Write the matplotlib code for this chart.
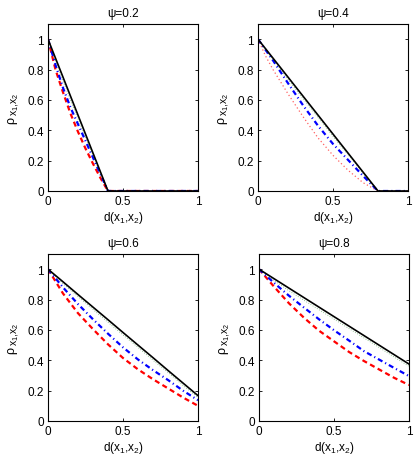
import matplotlib
matplotlib.use("Agg")
import matplotlib.pyplot as plt

plt.rcParams['font.family'] = ['Liberation Sans', 'DejaVu Sans']
plt.rcParams['mathtext.default'] = 'regular'

psis = [0.2, 0.4, 0.6, 0.8]
titles = ['ψ=0.2', 'ψ=0.4', 'ψ=0.6', 'ψ=0.8']

# distance grids per panel
d_02 = [0, 0.05, 0.1, 0.15, 0.2, 0.25, 0.3, 0.35, 0.4, 1.0]
d_04 = [0, 0.05, 0.1, 0.2, 0.3, 0.4, 0.5, 0.6, 0.7, 0.8, 1.0]
d_full = [0, 0.1, 0.2, 0.3, 0.4, 0.5, 0.6, 0.7, 0.8, 0.9, 1.0]

# psi = 0.2
black_02 = [1, 0.875, 0.75, 0.625, 0.5, 0.375, 0.25, 0.125, 0, 0]
green_02 = [1, 0.86, 0.725, 0.60, 0.475, 0.355, 0.235, 0.115, 0, 0]
blue_02 = [1, 0.83, 0.68, 0.55, 0.44, 0.33, 0.22, 0.11, 0, 0]
red_02 = [1, 0.80, 0.65, 0.51, 0.39, 0.28, 0.18, 0.085, 0, 0]

# psi = 0.4
black_04 = [1, 0.9375, 0.875, 0.75, 0.625, 0.5, 0.375, 0.25, 0.125, 0, 0]
green_04 = [1, 0.93, 0.865, 0.735, 0.61, 0.485, 0.36, 0.24, 0.118, 0, 0]
blue_04 = [1, 0.93, 0.86, 0.71, 0.565, 0.43, 0.31, 0.205, 0.10, 0, 0]
red_04 = [1, 0.89, 0.80, 0.64, 0.49, 0.35, 0.235, 0.137, 0.055, 0, 0]

# psi = 0.6
black_06 = [1, 0.917, 0.833, 0.75, 0.667, 0.583, 0.5, 0.417, 0.333, 0.25, 0.167]
green_06 = [1, 0.905, 0.82, 0.735, 0.65, 0.567, 0.485, 0.40, 0.32, 0.235, 0.155]
blue_06 = [1, 0.88, 0.77, 0.67, 0.575, 0.485, 0.405, 0.335, 0.27, 0.20, 0.137]
red_06 = [1, 0.84, 0.71, 0.605, 0.505, 0.415, 0.34, 0.275, 0.215, 0.155, 0.10]

# psi = 0.8
black_08 = [1, 0.9375, 0.875, 0.8125, 0.75, 0.6875, 0.625, 0.5625, 0.5, 0.4375, 0.375]
green_08 = [1, 0.925, 0.858, 0.795, 0.733, 0.671, 0.609, 0.547, 0.485, 0.422, 0.36]
blue_08 = [1, 0.91, 0.825, 0.747, 0.67, 0.598, 0.53, 0.46, 0.405, 0.35, 0.296]
red_08 = [1, 0.885, 0.775, 0.68, 0.595, 0.525, 0.455, 0.395, 0.34, 0.285, 0.237]

panels = [
    (d_02, black_02, green_02, blue_02, red_02, '--'),
    (d_04, black_04, green_04, blue_04, red_04, ':'),
    (d_full, black_06, green_06, blue_06, red_06, '--'),
    (d_full, black_08, green_08, blue_08, red_08, '--'),
]

fig = plt.figure(figsize=(4.15, 4.6), dpi=100)
W, H = 415.0, 460.0
boxes = [(48, 25), (258, 25), (48, 255), (259, 255)]
aw, ah = 150, 167

for i, (d, bk, gr, bl, rd, rstyle) in enumerate(panels):
    x0, y0 = boxes[i]
    ax = fig.add_axes([x0 / W, 1 - (y0 + ah) / H, aw / W, ah / H])
    if rstyle == '--':
        ax.plot(d, rd, color='red', linestyle=(0, (2.3, 1.6)), linewidth=1.6)
    else:
        ax.plot(d, rd, color='#ff6060', linestyle=(0, (1, 2)), linewidth=0.9)
    ax.plot(d, bl, color='blue', linestyle=(0, (2.3, 1.4, 0.5, 1.4)), linewidth=1.6)
    ax.plot(d, gr, color='#2e8b2e', linestyle=(0, (1, 2)), linewidth=0.6, alpha=0.7)
    ax.plot(d, bk, color='black', linestyle='-', linewidth=1.2)
    ax.set_xlim(0, 1)
    ax.set_ylim(0, 1.1)
    ax.set_xticks([0, 0.5, 1])
    ax.set_xticklabels(['0', '0.5', '1'])
    ax.set_yticks([0, 0.2, 0.4, 0.6, 0.8, 1])
    ax.set_yticklabels(['0', '0.2', '0.4', '0.6', '0.8', '1'])
    ax.tick_params(direction='in', length=2.5, width=0.6, top=True, right=True,
                   labelsize=8.5, pad=3)
    for s in ax.spines.values():
        s.set_linewidth(0.8)
    ax.set_title(titles[i], fontsize=8.5, pad=6)
    ax.set_xlabel('d(x$_1$,x$_2$)', fontsize=8.5, labelpad=1)
    # y label: rho with subscript x1,x2 (drawn as two rotated texts)
    fig.text((x0 - 34) / W, 1 - (y0 + 99) / H, 'ρ', fontsize=9, rotation=90,
             rotation_mode='anchor', ha='left', va='baseline')
    fig.text((x0 - 30.5) / W, 1 - (y0 + 91) / H, 'x$_1$,x$_2$', fontsize=7.5,
             rotation=90, rotation_mode='anchor', ha='left', va='baseline')

fig.savefig('out.png', dpi=100)
